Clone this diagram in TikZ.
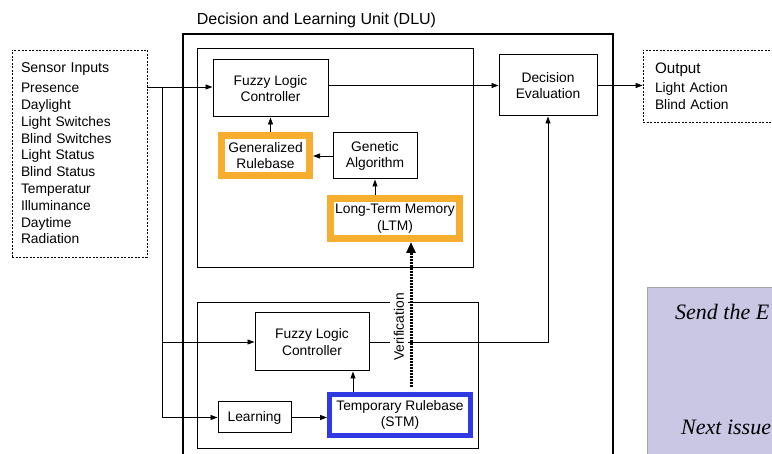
\documentclass[tikz,border=0pt]{standalone}
\usepackage{fontspec}
\setmainfont{Liberation Sans}
\newfontfamily\pagefont{Liberation Serif}
\usetikzlibrary{arrows.meta,positioning}
\definecolor{ltmorange}{RGB}{247,174,46}
\definecolor{stmblue}{RGB}{48,58,228}
\definecolor{pagelav}{RGB}{201,199,227}

\begin{document}
\begin{tikzpicture}[
  x=1pt, y=-1pt,
  font=\fontsize{13.8}{16.8}\selectfont,
  box/.style={draw, line width=1pt, align=center, inner sep=0pt},
  memo/.style={draw=#1, line width=7pt, align=center, inner sep=0pt},
  frame/.style={draw, line width=1pt, inner sep=0pt},
  iobox/.style={draw, line width=0.8pt, dash pattern=on 2pt off 1.5pt, align=left},
  arr/.style={-{Triangle[length=7pt,width=5pt]}, line width=0.9pt},
  verif/.style={line width=3pt, dash pattern=on 1.5pt off 1.5pt, -{Triangle[length=11pt,width=9pt]}}
]
  \clip (0,0) rectangle (772,454);
  \fill[white] (0,0) rectangle (772,454);

  % unit frames
  \node[frame, line width=2.2pt, minimum width=430pt, minimum height=440pt] (dlu) at (398,254) {};
  \node[font=\fontsize{16}{19}\selectfont, anchor=base] (dlutitle) at (316.5,25) {Decision and Learning Unit (DLU)};
  \node[frame, minimum width=276pt, minimum height=219pt] (upper) at (335,158.5) {};
  \node[frame, minimum width=281pt, minimum height=146pt] (lower) at (337.5,376) {};

  % inputs and outputs
  \node[iobox, minimum width=135pt, minimum height=207pt, text width=117pt, inner xsep=9pt] (sensors) at (79.5,153.5)
    {{\fontsize{14.2}{16.8}\selectfont Sensor Inputs}\\[3pt]
     Presence\\Daylight\\Light Switches\\Blind Switches\\Light Status\\Blind Status\\Temperatur\\Illuminance\\Daytime\\Radiation};
  \node[iobox, minimum width=150pt, minimum height=72pt, text width=126pt, inner xsep=12pt] (output) at (718,86)
    {{\fontsize{15.2}{16.8}\selectfont Output}\\[2pt]Light Action\\Blind Action};

  % upper part
  \node[box, minimum width=115pt, minimum height=57pt] (flcA) at (270.5,88.5) {Fuzzy Logic\\Controller};
  \node[memo=ltmorange, minimum width=88pt, minimum height=40pt] (genrules) at (265.5,155.5) {Generalized\\Rulebase};
  \node[box, minimum width=84pt, minimum height=46pt] (genalg) at (375,156) {Genetic\\Algorithm};
  \node[memo=ltmorange, minimum width=129pt, minimum height=40pt] (ltm) at (395,218.5) {Long-Term Memory\\(LTM)};
  \node[box, minimum width=98pt, minimum height=61pt] (deceval) at (548,85.5) {Decision\\Evaluation};

  % lower part
  \node[box, minimum width=114pt, minimum height=58pt] (flcB) at (312,342) {Fuzzy Logic\\Controller};
  \node[box, minimum width=73pt, minimum height=31pt] (learn) at (254.5,417.5) {Learning};
  \node[memo=stmblue, line width=5pt, minimum width=141pt, minimum height=41pt] (stm) at (400,415) {Temporary Rulebase\\(STM)};

  % connectors
  \coordinate (split) at (162,87);
  \coordinate (stmtap) at ([xshift=41pt]flcB.south);
  \coordinate (veriftap) at ([xshift=16pt]ltm.south);

  \draw[arr] (sensors.east |- split) -- (flcA.west |- split);
  \draw[arr] (split) |- (learn.west);
  \draw[arr] (split |- flcB.west) -- (flcB.west);
  \draw[arr] (flcA.east |- deceval.west) -- (deceval.west);
  \draw[arr] (deceval.east) -- (output.west |- deceval.east);
  \draw[arr] (genrules.north -| flcA.south) -- (flcA.south);
  \draw[arr] (genalg.west) -- (genrules.east |- genalg.west);
  \draw[arr] (ltm.north -| genalg.south) -- (genalg.south);
  \draw[arr] (learn.east) -- (stm.west |- learn.east);
  \draw[arr] (stmtap |- stm.north) -- (stmtap);
  \draw[arr] (flcB.east) -| (deceval.south);

  \node[fill=white, rotate=90, inner xsep=2pt, inner ysep=4pt] (veriflabel) at (399,327) {Verification};
  \draw[verif, shorten <=5pt] (veriftap |- stm.north) -- (veriftap);

  % page beside the figure
  \node[draw=gray!70, fill=pagelav, line width=0.8pt, minimum width=160pt, minimum height=200pt, anchor=north west, inner sep=0pt] (pagebox) at (647,287) {};
  \node[font=\pagefont\itshape\fontsize{22}{26}\selectfont, anchor=base west, inner sep=0pt] (pagetxtA) at (675,320) {Send the E};
  \node[font=\pagefont\itshape\fontsize{22}{26}\selectfont, anchor=base west, inner sep=0pt] (pagetxtB) at (681,435) {Next issue};
\end{tikzpicture}
\end{document}
